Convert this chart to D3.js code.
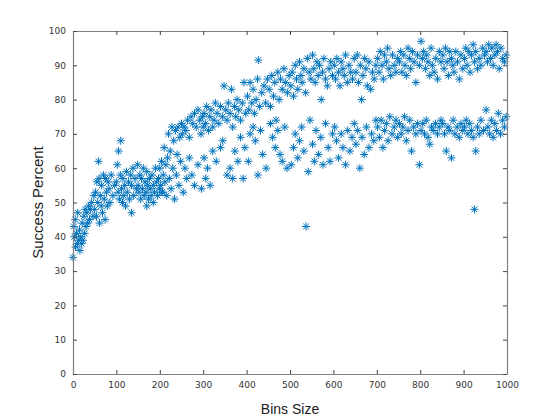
<!DOCTYPE html>
<html>
<head>
<meta charset="utf-8">
<script src="https://cdn.jsdelivr.net/npm/d3@7"></script>
<style>
  body { margin: 0; background: #fff; }
  svg { display: block; }
</style>
</head>
<body>
<svg id="chart" width="560" height="420"></svg>
<script>
// values
// ramp at the small bin sizes (0 - 250)
var rampBins = [0,2,3,5,6,8,10,11,13,15,16,18,20,21,23,25,27,28,30,32,34,36,38,40,43,46,48,
    50,52,54,55,57,59,60,61,63,65,66,68,70,72,74,75,77,79,81,83,85,88,92,96,
    100,102,104,105,107,109,110,112,114,115,117,119,121,123,125,128,130,133,135,138,140,143,146,149,
    150,152,154,156,158,160,162,164,166,168,170,172,174,176,178,180,182,185,188,190,192,195,197,199,
    200,202,204,206,208,210,212,214,216,218,220,222,224,226,228,230,232,234,236,238,240,242,244,246,248,250,
    135,170,185,205];
var rampPct = [34,43,40,45,37,41,38,47,39,42,36,40,38,44,39,46,41,48,43,47,44,49,45,48,50,46,52,
    48,53,46,56,50,62,57,44,52,49,55,47,58,51,45,57,53,49,56,54,50,58,52,55,
    56,61,53,65,51,58,68,54,50,57,52,55,49,59,53,56,51,58,55,60,52,57,54,61,
    55,53,58,51,57,54,60,52,56,53,59,55,51,57,54,52,58,55,53,60,56,52,57,54,
    60,55,62,53,58,66,56,61,52,63,70,57,65,54,72,60,68,51,71,58,64,72,55,69,62,73,
    47,49,50,53];

// upper branch (250 - 1000)
var upperBins = [252,256,260,264,268,272,276,280,284,288,292,295,298,300,
    302,305,308,312,315,318,322,325,328,332,336,340,344,348,
    352,355,358,362,365,368,372,375,378,382,386,390,394,398,
    402,405,408,412,415,418,422,425,427,430,435,440,444,448,
    452,455,458,462,465,468,472,475,478,482,486,490,494,498,
    502,505,508,512,515,518,522,525,528,532,536,540,544,548,
    552,555,558,562,565,568,572,575,578,582,586,590,594,598,
    602,605,608,612,615,618,622,625,628,632,636,640,644,648,
    652,655,658,662,665,668,672,675,678,682,686,690,694,698,
    702,705,708,712,715,718,722,725,728,732,736,740,744,748,
    752,755,758,762,765,768,772,775,778,782,786,790,794,798,
    802,805,808,812,815,818,822,825,828,832,836,840,844,848,
    852,855,858,862,865,868,872,875,878,882,886,890,894,898,
    902,905,908,912,915,918,922,925,928,932,936,940,944,948,
    952,955,958,962,965,968,972,975,978,982,986,990,994,998];
var upperPct = [70,72,71,74,69,75,73,76,72,77,74,70,75,72,
    76,73,78,71,75,77,72,74,79,76,73,78,75,84,
    77,74,79,76,83,72,78,75,80,77,74,79,85,76,
    81,77,85,79,83,76,80,86,91.5,78,82,84,79,86,
    83,78,87,81,85,74,88,80,86,83,89,85,82,87,
    84,88,81,90,86,83,91,87,85,89,82,92,88,86,
    93,89,85,91,87,90,80,88,92,86,84,89,91,87,
    90,86,92,88,84,91,89,87,93,85,90,88,86,92,
    88,93,85,90,80,87,92,89,84,91,83,88,86,90,
    92,88,94,90,86,93,91,95,89,87,93,90,88,92,
    91,94,88,93,90,87,95,92,89,94,91,85,93,90,
    97,92,94,89,93,91,87,95,90,88,92,86,94,91,
    93,89,95,91,87,94,92,90,88,94,91,86,93,89,
    92,95,90,94,88,93,96,91,94,89,92,90,95,93,
    94,91,96,92,95,90,93,96,94,89,95,92,91,93];

// lower branch (250 - 1000)
var lowerBins = [254,258,262,268,274,280,288,296,
    302,306,310,316,322,330,340,345,
    355,362,368,373,380,386,392,396,
    404,408,415,420,426,432,437,445,
    455,460,466,472,477,482,488,493,
    503,508,512,518,522,527,532,537,542,546,
    552,556,560,566,571,576,582,588,592,598,
    603,607,612,618,622,628,633,638,643,648,
    652,656,661,666,671,676,682,688,693,698,
    702,706,710,714,718,722,726,730,735,740,744,748,
    752,756,760,764,768,772,776,780,785,790,794,798,
    802,806,810,814,818,822,826,830,835,840,844,848,
    852,856,860,864,868,872,876,880,885,890,894,898,
    902,906,910,914,918,922,925,928,932,936,940,946,
    952,956,960,964,968,972,976,980,985,990,994,998];
var lowerPct = [53,60,57,63,58,55,61,54,
    63,57,60,55,65,62,66,68,
    58,60,57,65,62,69,57,66,
    62,70,72,68,58,71,64,60,
    73,69,66,71,64,62,72,60,
    61,66,70,63,68,72,65,43,59,74,
    67,62,71,64,69,61,73,66,62,70,
    72,68,63,70,66,61,71,65,69,73,
    67,71,60,69,64,72,66,70,68,74,
    72,69,74,66,71,73,68,75,70,72,74,69,
    73,70,72,75,68,71,74,65,72,70,73,61,
    71,73,70,74,69,67,72,71,73,70,72,74,
    73,70,65,72,71,63,74,70,72,69,73,71,
    72,74,70,73,71,69,48,65,72,70,74,71,
    77,72,70,74,69,73,71,76,70,74,72,75];

var xTicks = [0,100,200,300,400,500,600,700,800,900,1000];
var yTicks = [0,10,20,30,40,50,60,70,80,90,100];

document.addEventListener('DOMContentLoaded', function () {
    drawScatter();
});

function drawScatter() {
    const svg = d3.select('#chart');
    const margin = { top: 31, bottom: 46, right: 53, left: 73 };
    const width = 560 - margin.left - margin.right;
    const height = 420 - margin.top - margin.bottom;

    const x = d3.scaleLinear().domain([0, 1000]).range([0, width]);
    const y = d3.scaleLinear().domain([0, 100]).range([height, 0]);

    // all points in one list
    var pts = [];
    [[rampBins, rampPct], [upperBins, upperPct], [lowerBins, lowerPct]].forEach(function (s) {
        s[0].forEach(function (b, i) { pts.push({ bin: b, pct: s[1][i] }); });
    });

    // matlab style '*' marker : plus + cross
    var asterisk = {
        draw: function (ctx, size) {
            var r = Math.sqrt(size) / 2;
            var d = r * 0.72;
            ctx.moveTo(-r, 0); ctx.lineTo(r, 0);
            ctx.moveTo(0, -r); ctx.lineTo(0, r);
            ctx.moveTo(-d, -d); ctx.lineTo(d, d);
            ctx.moveTo(-d, d); ctx.lineTo(d, -d);
        }
    };

    const g = svg.append('g')
        .attr('transform', 'translate(' + margin.left + ',' + margin.top + ')');

    g.append('g').selectAll('path')
        .data(pts)
        .enter()
        .append('path')
        .attr('transform', d => 'translate(' + x(d.bin) + ',' + y(d.pct) + ')')
        .attr('d', d3.symbol().type(asterisk).size(64))
        .attr('fill', 'none')
        .attr('stroke', '#0072BD')
        .attr('stroke-width', 1);

    // axes, ticks pointing inwards on all four sides
    const tickFont = 'DejaVu Sans';
    const axisColor = '#808080';
    const fmt = d3.format('d');

    var xb = g.append('g').attr('transform', 'translate(0,' + height + ')')
        .call(d3.axisBottom(x).tickValues(xTicks).tickFormat(fmt).tickSize(-4).tickPadding(8).tickSizeOuter(0));
    var xt = g.append('g')
        .call(d3.axisTop(x).tickValues(xTicks).tickSize(-4).tickFormat('').tickSizeOuter(0));
    var yl = g.append('g')
        .call(d3.axisLeft(y).tickValues(yTicks).tickFormat(fmt).tickSize(-4).tickPadding(7).tickSizeOuter(0));
    var yr = g.append('g').attr('transform', 'translate(' + width + ',0)')
        .call(d3.axisRight(y).tickValues(yTicks).tickSize(-4).tickFormat('').tickSizeOuter(0));

    [xb, xt, yl, yr].forEach(function (a) {
        a.select('.domain').attr('stroke', axisColor).attr('stroke-width', 1.2);
        a.selectAll('.tick line').attr('stroke', '#444').attr('stroke-width', 1);
        a.selectAll('.tick text')
            .attr('fill', '#333')
            .style('font-family', tickFont)
            .style('font-size', '9px');
    });

    svg.append('text')
        .attr('x', margin.left + width / 2)
        .attr('y', 414)
        .attr('text-anchor', 'middle')
        .style('font-family', 'Liberation Sans, Arial, sans-serif')
        .style('font-size', '14px')
        .attr('fill', '#222')
        .text('Bins Size');

    svg.append('text')
        .attr('transform', 'translate(43,' + (margin.top + height / 2) + ') rotate(-90)')
        .attr('text-anchor', 'middle')
        .style('font-family', 'Liberation Sans, Arial, sans-serif')
        .style('font-size', '15px')
        .attr('fill', '#222')
        .text('Success Percent');
}
</script>
</body>
</html>
